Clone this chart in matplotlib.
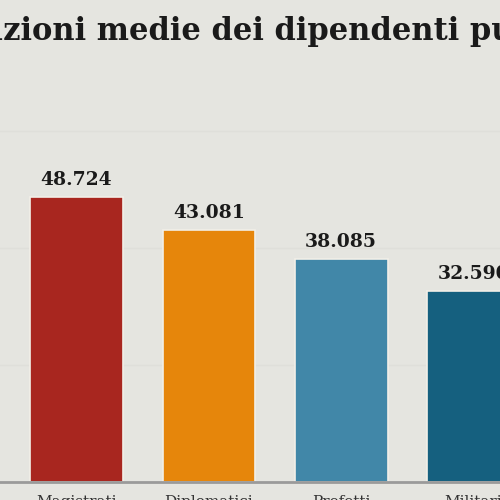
# -*- coding: utf-8 -*-
"""
Retribuzioni medie dei dipendenti pubblici - bar chart (cropped view)
"""
import matplotlib.pyplot as plt

# data
categories = ['Magistrati', 'Diplomatici', 'Prefetti', 'Militari']
values = [48724, 43081, 38085, 32590]
value_labels = ['48.724', '43.081', '38.085', '32.590']
colors = ['#a8261f', '#e6860b', '#4187a8', '#15607f']

bg = '#e5e5e0'
title = 'Retribuzioni medie dei dipendenti pubblici'

fig = plt.figure(figsize=(5, 5), dpi=100, facecolor=bg)
ax = fig.add_axes([0, 0, 1, 1])
ax.set_facecolor(bg)

x = list(range(len(values)))
ax.bar(x, values, width=0.70, color=colors, edgecolor='#f2efe8', linewidth=1.2, zorder=3)

# faint grid lines
for g in [20000, 40000, 60000]:
    ax.axhline(g, color='#dfdfda', lw=1, zorder=1)

# baseline
ax.axhline(0, color='#9a9a9a', lw=2, zorder=4)

# value labels
for xi, v, lab in zip(x, values, value_labels):
    ax.text(xi, v + 1400, lab, ha='center', va='bottom', fontsize=13.5,
            fontweight='bold', family='DejaVu Serif', color='#1a1a1a', zorder=5)

# category labels, mostly cut off at the bottom
for xi, c in zip(x, categories):
    ax.text(xi, -2300, c, ha='center', va='top', fontsize=11,
            family='DejaVu Serif', color='#333333', zorder=5)

# title, cropped so that it starts at "zioni"
tfont = dict(fontsize=22, fontweight='bold', family='DejaVu Serif')
r = fig.canvas.get_renderer()
probe = fig.text(0, 0, 'Retribu', **tfont)
w = probe.get_window_extent(renderer=r).width
probe.remove()
fig.text(-w / 500 + 0.006, 0.937, title, ha='left', va='center', color='#1a1a1a', **tfont)

ax.set_xlim(-0.578, 3.20)
ax.set_ylim(-3080, 82420)
ax.axis('off')

fig.savefig('out.png', dpi=100, facecolor=bg)
